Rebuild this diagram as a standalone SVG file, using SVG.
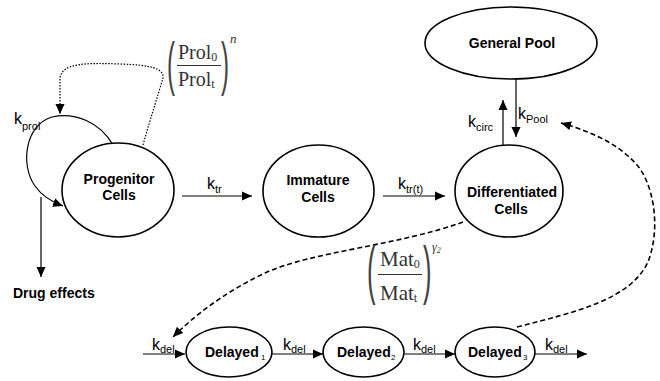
<svg xmlns="http://www.w3.org/2000/svg" width="660" height="381" viewBox="0 0 660 381">
<style>
.node{fill:#fff;stroke:#000;stroke-width:1.6}
.lbl{font-family:"Liberation Sans",Arial,sans-serif;font-weight:bold;font-size:14px;fill:#000}
.k{font-family:"Liberation Sans",Arial,sans-serif;font-size:16px;fill:#000}
.ks{font-size:11px}
.dsub{font-family:"Liberation Sans",Arial,sans-serif;font-size:8px;fill:#000}
.fm{font-family:"Liberation Serif","Times New Roman",serif;fill:#333}
.par{font-family:"Liberation Sans",Arial,sans-serif;fill:#444}
.solid{fill:none;stroke:#000;stroke-width:1.2}
.dash{fill:none;stroke:#000;stroke-width:1.6;stroke-dasharray:5,3}
.dot{fill:none;stroke:#000;stroke-width:1.2;stroke-dasharray:1.5,1.5}
</style>
<defs>
<marker id="ah" markerUnits="userSpaceOnUse" markerWidth="11" markerHeight="10" refX="10" refY="5" orient="auto">
<path d="M0,0.5 L10,5 L0,9.5 z" fill="#000"/>
</marker>
</defs>
<rect width="660" height="381" fill="#fff"/>

<g id="connectors">
<path class="solid" d="M113,145 C100,122 75,112 52,117 C25,125 20,165 35,186 C42,196 52,202 63,206" marker-end="url(#ah)"/>
<path class="dot" d="M143,145 C150,120 158,95 163,78 C164,68 150,65 120,64 C90,63 62,62 60,78 L60,114" marker-end="url(#ah)"/>
<line class="solid" x1="41" y1="197" x2="41" y2="277" marker-end="url(#ah)"/>
<line class="solid" x1="182" y1="196" x2="252" y2="196" marker-end="url(#ah)"/>
<line class="solid" x1="383" y1="196" x2="445" y2="196" marker-end="url(#ah)"/>
<line class="solid" x1="516" y1="79" x2="516" y2="137" marker-end="url(#ah)"/>
<line class="solid" x1="503" y1="145" x2="503" y2="100" marker-end="url(#ah)"/>
<path class="dash" d="M463,222 C400,245 310,252 265,273 C225,292 195,315 173,337" marker-end="url(#ah)"/>
<path class="dash" d="M517,327 C575,312 630,300 648,262 C662,225 652,182 637,165 C622,148 600,134 561,123" marker-end="url(#ah)"/>
<line class="solid" x1="143" y1="354" x2="185" y2="354" marker-end="url(#ah)"/>
<line class="solid" x1="272" y1="354" x2="323" y2="354" marker-end="url(#ah)"/>
<line class="solid" x1="403" y1="354" x2="455" y2="354" marker-end="url(#ah)"/>
<line class="solid" x1="535" y1="354" x2="587" y2="354" marker-end="url(#ah)"/>
</g>

<g id="labels">
<text class="k" x="14" y="124">k<tspan class="ks" dy="6">prol</tspan></text>
<text class="k" x="207" y="189">k<tspan class="ks" dy="4">tr</tspan></text>
<text class="k" x="398" y="189">k<tspan class="ks" dy="4">tr(t)</tspan></text>
<text class="k" x="468" y="127">k<tspan class="ks" dy="4">circ</tspan></text>
<text class="k" x="518" y="119">k<tspan class="ks" dy="4">Pool</tspan></text>
<text class="k" x="152" y="350">k<tspan class="ks" dy="3">del</tspan></text>
<text class="k" x="283" y="350">k<tspan class="ks" dy="3">del</tspan></text>
<text class="k" x="413" y="350">k<tspan class="ks" dy="3">del</tspan></text>
<text class="k" x="545" y="350">k<tspan class="ks" dy="3">del</tspan></text>
<text class="lbl" x="13" y="298">Drug effects</text>
</g>

<g id="formula-prol">
<text class="par" font-size="60" transform="translate(167,84) scale(0.4,1)">(</text>
<text class="par" font-size="60" transform="translate(221,84) scale(0.4,1)">)</text>
<text class="fm" font-size="20" x="178" y="59">Prol<tspan font-size="12" dy="2">0</tspan></text>
<line x1="177" y1="65.5" x2="221" y2="65.5" stroke="#333" stroke-width="1"/>
<text class="fm" font-size="20" x="178" y="86">Prol<tspan font-size="12" dy="2">t</tspan></text>
<text class="fm" font-size="13" font-style="italic" x="230" y="43">n</text>
</g>

<g id="formula-mat">
<text class="par" font-size="64" transform="translate(367,292) scale(0.4,1)">(</text>
<text class="par" font-size="64" transform="translate(423,292) scale(0.4,1)">)</text>
<text class="fm" font-size="21" x="380" y="266">Mat<tspan font-size="12" dy="2">0</tspan></text>
<line x1="378" y1="274.5" x2="422" y2="274.5" stroke="#333" stroke-width="1"/>
<text class="fm" font-size="21" x="380" y="300">Mat<tspan font-size="12" dy="2">t</tspan></text>
<text class="fm" font-size="12" font-style="italic" x="432" y="251">γ<tspan font-size="8" dy="2">2</tspan></text>
</g>

<g id="progenitor">
<ellipse class="node" cx="118" cy="190" rx="56" ry="47"/>
<text class="lbl" x="119" y="184" text-anchor="middle">Progenitor</text>
<text class="lbl" x="119" y="200" text-anchor="middle">Cells</text>
</g>
<g id="immature">
<ellipse class="node" cx="318.5" cy="191" rx="55.5" ry="46"/>
<text class="lbl" x="318" y="185" text-anchor="middle">Immature</text>
<text class="lbl" x="318" y="202" text-anchor="middle">Cells</text>
</g>
<g id="differentiated">
<ellipse class="node" cx="509" cy="191" rx="54" ry="46"/>
<text class="lbl" x="512" y="197" text-anchor="middle">Differentiated</text>
<text class="lbl" x="511" y="214" text-anchor="middle">Cells</text>
</g>
<g id="general-pool">
<ellipse class="node" cx="511" cy="43" rx="86" ry="36"/>
<text class="lbl" x="512" y="48" text-anchor="middle">General Pool</text>
</g>
<g id="delayed1">
<ellipse class="node" cx="229" cy="352" rx="43" ry="25"/>
<text class="lbl" x="205" y="357">Delayed</text>
<text class="dsub" x="261" y="360">1</text>
</g>
<g id="delayed2">
<ellipse class="node" cx="363.5" cy="352" rx="40.5" ry="25"/>
<text class="lbl" x="337" y="357">Delayed</text>
<text class="dsub" x="391" y="360">2</text>
</g>
<g id="delayed3">
<ellipse class="node" cx="495" cy="352" rx="40" ry="25"/>
<text class="lbl" x="468" y="357">Delayed</text>
<text class="dsub" x="523" y="360">3</text>
</g>
</svg>
